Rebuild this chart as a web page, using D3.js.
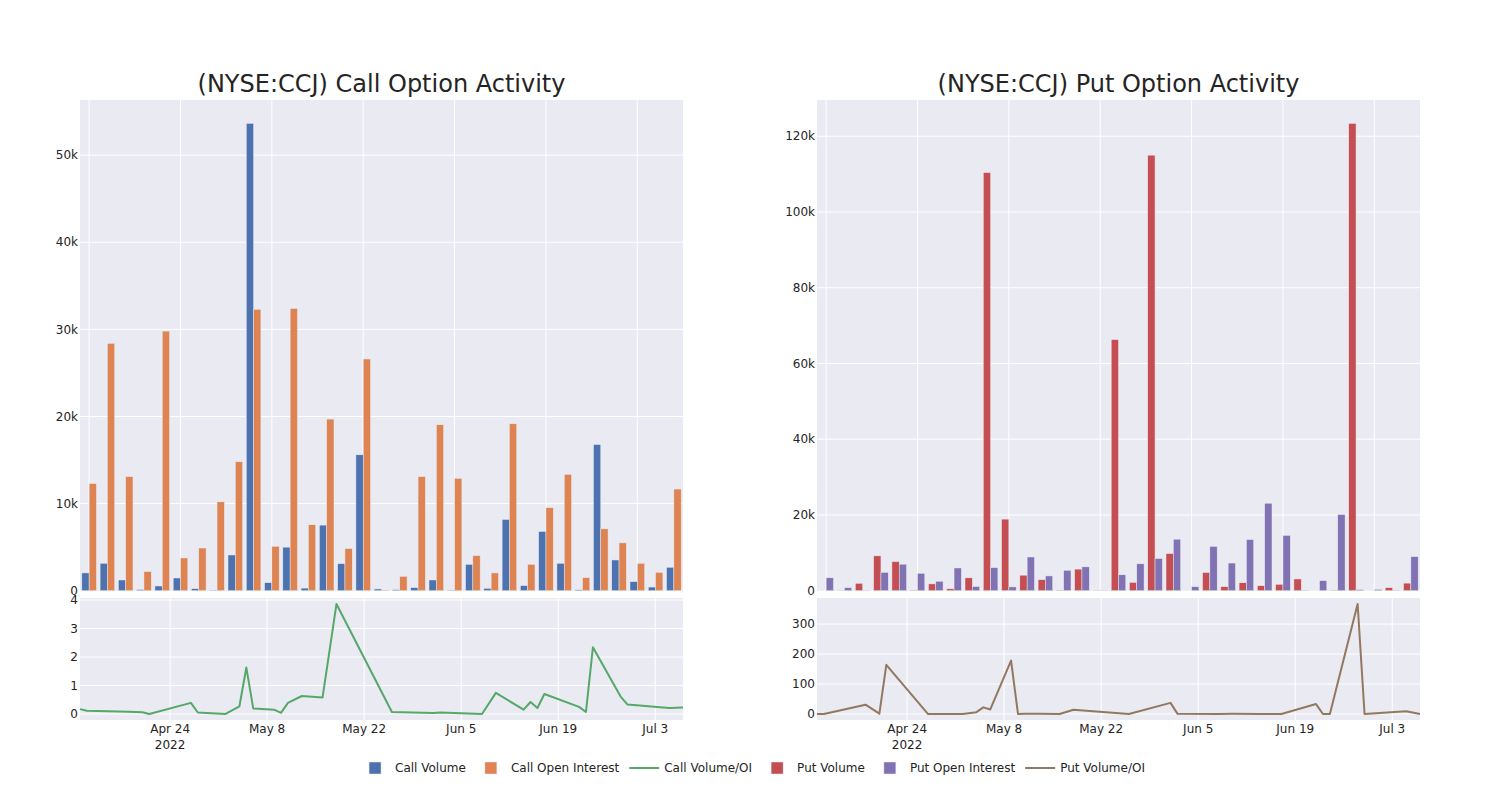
<!DOCTYPE html>
<html>
<head>
<meta charset="utf-8">
<script src="https://cdn.jsdelivr.net/npm/d3@7"></script>
<style>
  body { margin: 0; background: #fff; }
  svg { display: block; font-family: "DejaVu Sans", sans-serif; }
</style>
</head>
<body>
<svg id="chart" width="1500" height="800"></svg>
<script>
// ---------------- data ----------------
const dates = ["2022-04-11","2022-04-12","2022-04-18","2022-04-20","2022-04-21","2022-04-27","2022-04-28",
  "2022-05-02","2022-05-04","2022-05-05","2022-05-06","2022-05-09","2022-05-10","2022-05-11","2022-05-13",
  "2022-05-16","2022-05-18","2022-05-26","2022-06-01","2022-06-02","2022-06-08","2022-06-10","2022-06-14",
  "2022-06-15","2022-06-16","2022-06-17","2022-06-22","2022-06-23","2022-06-24","2022-06-28","2022-06-29",
  "2022-07-05","2022-07-07"];
const callVolume = [2040,3150,1230,130,540,1460,230,50,4100,53650,920,5000,300,7530,3100,15600,200,115,350,1230,
  50,3030,270,8180,580,6800,3150,105,16780,3530,1040,420,2690];
const callOpenInterest = [12300,28400,13100,2200,29800,3760,4900,10200,14800,32300,5100,32400,7570,19700,4840,26600,
  60,1650,13100,19050,12900,4030,2040,19160,3030,9530,13360,1500,7100,5490,3150,2110,11670];
const callVolumeOI = [0.17,0.115,0.08,0.06,0.0,0.39,0.05,0.0,0.27,1.63,0.19,0.15,0.04,0.39,0.63,0.58,3.86,0.07,
  0.03,0.05,0.0,0.74,0.15,0.42,0.21,0.7,0.25,0.07,2.34,0.61,0.33,0.21,0.23];
const putVolume = [0,50,1950,9200,7700,100,1800,500,3400,110400,18900,4100,2900,100,5700,50,66300,2200,115000,9800,
  0,4800,1060,2100,1300,1700,3100,0,100,123400,0,800,2000];
const putOpenInterest = [3400,800,60,4850,7000,4600,2500,6000,1100,6100,1000,8900,3900,5400,6300,50,4200,7100,8500,
  13600,1060,11700,7300,13500,23100,14600,90,2650,20100,300,350,90,9000];
const putVolumeOI = [0,0,31,1,164,0,0,0,6,22,15,178,0,1,1,0,14,0,37,1,0,0.4,0.1,0.2,0.1,0.1,33,0,0,367,0,9,0];
const dateTicks = ["2022-04-24","2022-05-08","2022-05-22","2022-06-05","2022-06-19","2022-07-03"];
const titles = ["(NYSE:CCJ) Call Option Activity", "(NYSE:CCJ) Put Option Activity"];
const legendItems = [
  {name: "Call Volume", type: "bar", color: "rgb(76,114,176)"},
  {name: "Call Open Interest", type: "bar", color: "rgb(221,132,82)"},
  {name: "Call Volume/OI", type: "line", color: "rgb(85,168,104)"},
  {name: "Put Volume", type: "bar", color: "rgb(196,78,82)"},
  {name: "Put Open Interest", type: "bar", color: "rgb(129,114,179)"},
  {name: "Put Volume/OI", type: "line", color: "rgb(147,120,96)"}
];

// ---------------- layout ----------------
const svg = d3.select("#chart");
const parse = d3.utcParse("%Y-%m-%d");
const dateVals = dates.map(parse);
const BG = "rgb(234,234,242)";
const TXT = "rgb(36,36,36)";
const topY0 = 100, topY1 = 590.7, botY0 = 598, botY1 = 720;

const panels = [
  {x0: 80, x1: 683, vol: callVolume, oi: callOpenInterest, ratio: callVolumeOI,
   c1: legendItems[0].color, c2: legendItems[1].color, lc: legendItems[2].color, title: titles[0],
   ratioTicks: [0,1,2,3,4]},
  {x0: 817, x1: 1420, vol: putVolume, oi: putOpenInterest, ratio: putVolumeOI,
   c1: legendItems[3].color, c2: legendItems[4].color, lc: legendItems[5].color, title: titles[1],
   ratioTicks: [0,100,200,300]}
];

panels.forEach(p => {
  const g = svg.append("g");
  // ---------- top bar panel ----------
  g.append("rect").attr("x", p.x0).attr("y", topY0).attr("width", p.x1 - p.x0).attr("height", topY1 - topY0).attr("fill", BG);
  const xb = d3.scaleBand().domain(d3.range(dates.length)).range([p.x0, p.x1]).paddingInner(0).paddingOuter(0);
  const maxBar = d3.max(p.vol.concat(p.oi));
  const yb = d3.scaleLinear().domain([0, maxBar * 1.05]).range([topY1, topY0]);
  const yTicks = yb.ticks(6).filter(t => t <= maxBar * 1.05);
  // grid
  g.selectAll(".hgrid").data(yTicks.filter(t => t > 0)).join("line")
    .attr("x1", p.x0).attr("x2", p.x1).attr("y1", d => yb(d)).attr("y2", d => yb(d))
    .attr("stroke", "#fff").attr("stroke-width", 1);
  g.selectAll(".vgrid").data(d3.range(0, dates.length, 5)).join("line")
    .attr("x1", d => xb(d) + xb.bandwidth() / 2).attr("x2", d => xb(d) + xb.bandwidth() / 2)
    .attr("y1", topY0).attr("y2", topY1).attr("stroke", "#fff").attr("stroke-width", 1);
  const bw = xb.bandwidth() * 0.4;
  [[p.vol, p.c1, 0.1], [p.oi, p.c2, 0.5]].forEach(([vals, col, off]) => {
    g.append("g").selectAll("rect").data(vals).join("rect")
      .attr("x", (d, i) => xb(i) + xb.bandwidth() * off)
      .attr("width", bw)
      .attr("y", d => yb(d))
      .attr("height", d => Math.max(0, yb(0) - yb(d)))
      .attr("fill", col)
      .attr("stroke", BG).attr("stroke-width", 0.5);
  });
  // y tick labels
  g.selectAll(".ylab").data(yTicks).join("text")
    .attr("x", p.x0 - 2).attr("y", d => yb(d)).attr("dy", "0.35em")
    .attr("text-anchor", "end").attr("font-size", 12).attr("fill", TXT)
    .text(d3.format("~s"));
  // title
  g.append("text").attr("x", (p.x0 + p.x1) / 2).attr("y", 92)
    .attr("text-anchor", "middle").attr("font-size", 24).attr("fill", TXT).text(p.title);

  // ---------- bottom line panel ----------
  g.append("rect").attr("x", p.x0).attr("y", botY0).attr("width", p.x1 - p.x0).attr("height", botY1 - botY0).attr("fill", BG);
  const xt = d3.scaleUtc().domain([dateVals[0], dateVals[dateVals.length - 1]]).range([p.x0, p.x1]);
  const rmax = d3.max(p.ratio), rmin = d3.min(p.ratio);
  const pad = (rmax - rmin) * 0.055;
  const yr = d3.scaleLinear().domain([rmin - pad, rmax + pad]).range([botY1, botY0]);
  const tickD = dateTicks.map(parse);
  g.selectAll(".hgrid2").data(p.ratioTicks).join("line")
    .attr("x1", p.x0).attr("x2", p.x1).attr("y1", d => yr(d)).attr("y2", d => yr(d))
    .attr("stroke", "#fff").attr("stroke-width", 1);
  g.selectAll(".vgrid2").data(tickD).join("line")
    .attr("x1", d => xt(d)).attr("x2", d => xt(d)).attr("y1", botY0).attr("y2", botY1)
    .attr("stroke", "#fff").attr("stroke-width", 1);
  const line = d3.line().x((d, i) => xt(dateVals[i])).y(d => yr(d));
  g.append("path").datum(p.ratio).attr("d", line).attr("fill", "none")
    .attr("stroke", p.lc).attr("stroke-width", 2).attr("stroke-linejoin", "round");
  g.selectAll(".ylab2").data(p.ratioTicks).join("text")
    .attr("x", p.x0 - 2).attr("y", d => yr(d)).attr("dy", "0.35em")
    .attr("text-anchor", "end").attr("font-size", 12).attr("fill", TXT).text(d => d);
  const fmt = d3.utcFormat("%b %-d");
  const xl = g.selectAll(".xlab").data(tickD).join("text")
    .attr("x", d => xt(d)).attr("y", 733)
    .attr("text-anchor", "middle").attr("font-size", 12).attr("fill", TXT);
  xl.append("tspan").attr("x", d => xt(d)).text(fmt);
  xl.filter((d, i) => i === 0).append("tspan").attr("x", d => xt(d)).attr("dy", 16).text(d => d3.utcFormat("%Y")(d));
});

// ---------------- legend ----------------
const lg = svg.append("g");
let lx = 0;
legendItems.forEach(it => {
  const ig = lg.append("g").attr("transform", `translate(${lx},0)`);
  if (it.type === "bar") {
    ig.append("rect").attr("x", 14).attr("y", -6).attr("width", 12).attr("height", 12)
      .attr("fill", it.color).attr("stroke", BG).attr("stroke-width", 0.5);
  } else {
    ig.append("line").attr("x1", 5).attr("x2", 35).attr("y1", 0).attr("y2", 0)
      .attr("stroke", it.color).attr("stroke-width", 2);
  }
  const t = ig.append("text").attr("x", 40).attr("y", 0).attr("dy", "0.35em")
    .attr("font-size", 12).attr("fill", TXT).text(it.name);
  const w = t.node().getComputedTextLength();
  lx += 40 + w + 5;
});
const totalW = lx - 5;
lg.attr("transform", `translate(${750 - totalW / 2},768)`);
</script>
</body>
</html>
